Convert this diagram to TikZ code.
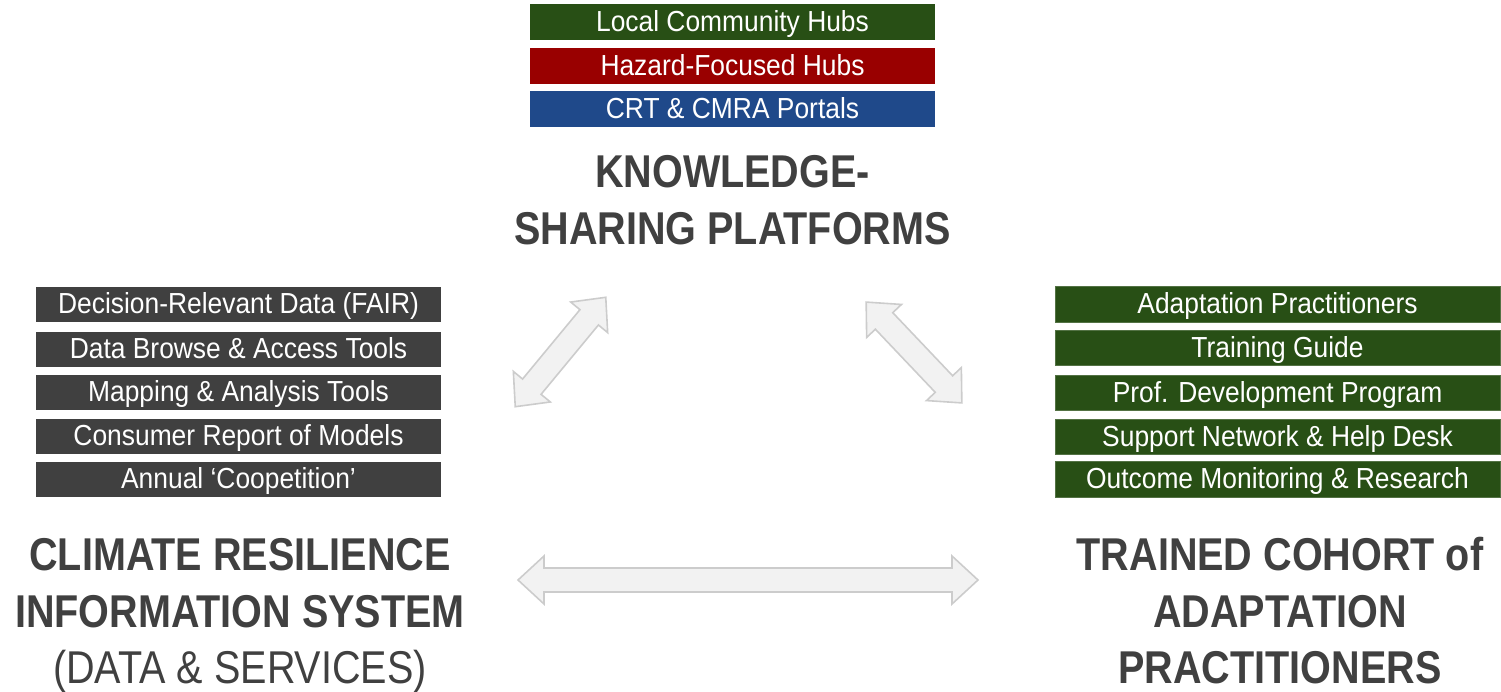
\documentclass[tikz,border=0pt]{standalone}
\usepackage{fontspec}
\setmainfont{Liberation Sans}[FakeStretch=0.86]
\newfontfamily\boxfont{Liberation Sans}[FakeStretch=0.91]
\definecolor{boxgreen}{RGB}{40,79,21}
\definecolor{boxred}{RGB}{153,0,0}
\definecolor{boxblue}{RGB}{31,73,138}
\definecolor{boxgray}{RGB}{64,64,64}
\definecolor{titlegray}{RGB}{64,64,64}
\definecolor{arrfill}{RGB}{242,242,242}
\definecolor{arrline}{RGB}{204,204,204}
\newcommand{\DblArr}[4]{%
  \begin{scope}[shift={(#1,#2)},rotate=#3]
    \pgfmathsetmacro{\hh}{#4/2}
    \draw[arrowshape] (-\hh,0) -- (-\hh+26,24) -- (-\hh+26,12) -- (\hh-26,12) -- (\hh-26,24) -- (\hh,0)
      -- (\hh-26,-24) -- (\hh-26,-12) -- (-\hh+26,-12) -- (-\hh+26,-24) -- cycle;
  \end{scope}}
\begin{document}
\begin{tikzpicture}[x=1pt,y=-1pt,
  itembox/.style={minimum height=35pt,inner sep=0pt,text=white,
    font=\boxfont\fontsize{29}{31}\selectfont,text height=18.5pt,text depth=0pt},
  topbox/.style={itembox,minimum width=405pt,minimum height=36pt},
  leftbox/.style={itembox,fill=boxgray,minimum width=405pt},
  rightbox/.style={itembox,fill=boxgreen,draw=boxgreen!80!white,line width=0.6pt,minimum width=445pt,minimum height=35.5pt},
  titleline/.style={anchor=base,text=titlegray,inner sep=0pt,font=\fontsize{46}{56}\selectfont\bfseries},
  subline/.style={anchor=base,text=titlegray,inner sep=0pt,font=\fontsize{46}{56}\selectfont},
  arrowshape/.style={fill=arrfill,draw=arrline,line width=1.6pt,line join=miter}]
\useasboundingbox (0,0) rectangle (1501,691);
% top group
\node[topbox,fill=boxgreen] (t1) at (732.5,22) {Local Community Hubs};
\node[topbox,fill=boxred] (t2) at (732.5,66) {Hazard-Focused Hubs};
\node[topbox,fill=boxblue] (t3) at (732.5,109) {CRT \& CMRA Portals};
\node[titleline] (kt1) at (732.5,187) {KNOWLEDGE-};
\node[titleline] (kt2) at (732.5,244) {SHARING PLATFORMS};
% left group
\node[leftbox] (l1) at (238.5,304.5) {Decision-Relevant Data (FAIR)};
\node[leftbox] (l2) at (238.5,349.5) {Data Browse \& Access Tools};
\node[leftbox] (l3) at (238.5,392.5) {Mapping \& Analysis Tools};
\node[leftbox] (l4) at (238.5,436.5) {Consumer Report of Models};
\node[leftbox] (l5) at (238.5,479.5) {Annual ‘Coopetition’};
\node[titleline] (lt1) at (240,570) {CLIMATE RESILIENCE};
\node[titleline] (lt2) at (240,627) {INFORMATION SYSTEM};
\node[subline] (lt3) at (240,683) {(DATA \& SERVICES)};
% right group
\node[rightbox] (r1) at (1277.5,304.5) {Adaptation Practitioners};
\node[rightbox] (r2) at (1277.5,348) {Training Guide};
\node[rightbox] (r3) at (1277.5,393) {Prof. Development Program};
\node[rightbox] (r4) at (1277.5,437) {Support Network \& Help Desk};
\node[rightbox] (r5) at (1277.5,479.5) {Outcome Monitoring \& Research};
\node[titleline] (rt1) at (1280,570) {TRAINED COHORT of};
\node[titleline] (rt2) at (1280,627) {ADAPTATION};
\node[titleline] (rt3) at (1280,683) {PRACTITIONERS};
% double arrows
\DblArr{560.5}{352}{50.4}{142}
\DblArr{914}{352.5}{-46.5}{139}
\DblArr{748}{580}{0}{460}
\end{tikzpicture}
\end{document}
